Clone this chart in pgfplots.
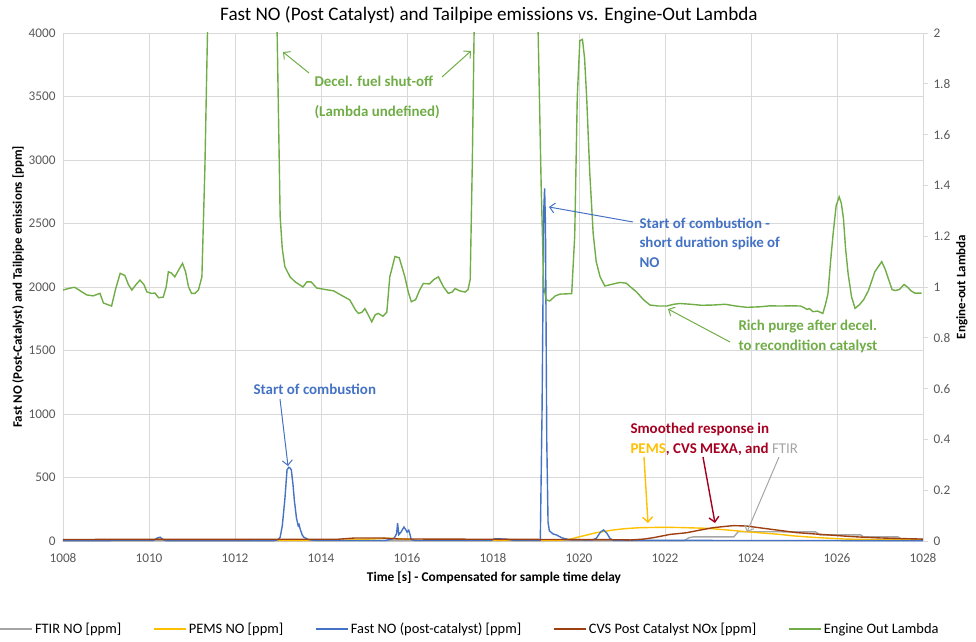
\documentclass[border=0pt]{standalone}
\usepackage{pgfplots}
\pgfplotsset{compat=1.18}
\usepackage{fontspec}
\setmainfont{Carlito}
\usetikzlibrary{arrows.meta}
\definecolor{cgray}{HTML}{A5A5A5}
\definecolor{cgold}{HTML}{FFC000}
\definecolor{cblue}{HTML}{4472C4}
\definecolor{cbrown}{HTML}{9E3F12}
\definecolor{cgreen}{HTML}{70AD47}
\definecolor{cdred}{HTML}{A50021}
\definecolor{cgrid}{HTML}{D9D9D9}
\definecolor{ctick}{HTML}{595959}

\pgfplotstableread{
t v
1008.00 3
1022.45 3
1022.55 25
1022.65 32
1023.60 32
1023.70 73
1025.50 72
1025.60 48
1026.55 48
1026.62 32
1027.42 32
1027.50 14
1028.00 14
}\ftir

\pgfplotstableread{
t v
1008.00 4
1010.05 4
1010.20 18
1010.35 8
1010.50 4
1014.40 5
1014.90 12
1015.60 22
1016.00 14
1016.30 4
1019.50 4
1019.80 15
1020.02 34
1020.40 65
1020.80 87
1021.10 98
1021.42 105
1022.00 108
1022.35 106
1022.97 100
1023.40 88
1023.90 73
1024.30 62
1024.67 52
1025.00 40
1025.45 29
1025.80 22
1026.22 15
1027.00 10
1028.00 8
}\pems

\pgfplotstableread{
t v
1008.00 3
1010.10 4
1010.20 25
1010.26 30
1010.33 10
1010.40 3
1012.90 3
1013.00 10
1013.05 30
1013.10 120
1013.16 330
1013.21 560
1013.25 580
1013.28 575
1013.31 560
1013.35 440
1013.38 320
1013.43 180
1013.47 120
1013.49 130
1013.52 90
1013.56 50
1013.60 30
1013.70 12
1013.80 6
1014.00 4
1015.50 4
1015.70 20
1015.76 60
1015.78 140
1015.81 50
1015.86 70
1015.93 110
1015.97 90
1016.00 70
1016.04 85
1016.07 50
1016.10 10
1016.20 4
1017.95 4
1018.05 18
1018.30 15
1018.50 4
1019.10 5
1019.14 1000
1019.18 2600
1019.20 2777
1019.22 2500
1019.25 800
1019.28 150
1019.31 80
1019.40 55
1019.48 47
1019.60 25
1019.75 12
1020.30 8
1020.40 20
1020.50 70
1020.57 87
1020.65 60
1020.72 20
1020.80 5
1028.00 3
}\fastno

\pgfplotstableread{
t v
1008.00 12
1014.40 14
1014.80 24
1015.40 24
1015.80 16
1021.00 10
1021.20 8
1021.50 15
1021.73 26
1022.12 52
1022.50 65
1022.80 85
1023.12 105
1023.40 115
1023.59 121
1023.90 118
1024.29 100
1024.70 82
1025.06 66
1025.50 55
1025.84 47
1026.20 38
1026.60 30
1027.00 24
1027.40 20
1028.00 15
}\cvs

\pgfplotstableread{
t v
1008.00 0.988
1008.15 0.995
1008.27 0.999
1008.40 0.985
1008.55 0.969
1008.70 0.965
1008.86 0.975
1008.94 0.937
1009.05 0.930
1009.13 0.925
1009.22 0.990
1009.33 1.054
1009.44 1.045
1009.52 1.010
1009.60 0.988
1009.70 1.010
1009.79 1.027
1009.88 1.010
1009.95 0.981
1010.05 0.975
1010.14 0.976
1010.22 0.958
1010.33 0.960
1010.40 1.000
1010.45 1.060
1010.52 1.055
1010.60 1.040
1010.70 1.070
1010.78 1.093
1010.85 1.060
1010.92 1.000
1010.99 0.975
1011.07 0.975
1011.15 0.988
1011.23 1.040
1011.30 1.470
1011.36 2.000
1011.40 2.600
1012.94 2.600
1012.98 2.000
1013.05 1.277
1013.10 1.150
1013.16 1.080
1013.28 1.040
1013.40 1.020
1013.51 1.008
1013.58 1.000
1013.67 1.020
1013.77 1.020
1013.90 0.996
1014.10 0.990
1014.29 0.985
1014.50 0.965
1014.67 0.949
1014.80 0.910
1014.87 0.896
1014.95 0.900
1015.02 0.915
1015.10 0.890
1015.18 0.863
1015.26 0.890
1015.33 0.896
1015.44 0.885
1015.53 0.900
1015.60 1.040
1015.72 1.120
1015.82 1.115
1015.95 1.040
1016.03 0.980
1016.10 0.942
1016.20 0.950
1016.30 0.990
1016.38 1.014
1016.52 1.012
1016.63 1.030
1016.73 1.040
1016.85 1.000
1016.96 0.975
1017.05 0.980
1017.12 0.994
1017.22 0.985
1017.35 0.980
1017.42 0.990
1017.47 1.030
1017.52 1.500
1017.56 2.000
1017.60 2.600
1019.01 2.600
1019.05 2.000
1019.12 1.400
1019.18 1.000
1019.24 0.949
1019.32 0.945
1019.45 0.965
1019.56 0.972
1019.70 0.973
1019.83 0.974
1019.90 1.200
1019.96 1.750
1020.02 1.970
1020.08 1.975
1020.13 1.900
1020.18 1.740
1020.25 1.450
1020.33 1.210
1020.40 1.100
1020.49 1.040
1020.60 1.004
1020.75 1.010
1020.95 1.018
1021.10 1.015
1021.20 1.000
1021.34 0.980
1021.50 0.950
1021.65 0.929
1021.85 0.925
1022.04 0.925
1022.20 0.932
1022.35 0.935
1022.60 0.932
1022.85 0.928
1023.12 0.929
1023.40 0.932
1023.65 0.925
1023.90 0.920
1024.20 0.922
1024.45 0.926
1024.67 0.925
1024.95 0.926
1025.15 0.925
1025.22 0.920
1025.30 0.912
1025.36 0.915
1025.44 0.903
1025.55 0.905
1025.67 0.896
1025.73 0.930
1025.79 0.974
1025.85 1.100
1025.91 1.210
1025.98 1.320
1026.05 1.355
1026.10 1.330
1026.15 1.270
1026.20 1.150
1026.26 1.050
1026.34 0.960
1026.42 0.916
1026.52 0.930
1026.62 0.950
1026.73 0.986
1026.80 1.020
1026.88 1.060
1026.96 1.080
1027.04 1.100
1027.12 1.070
1027.20 1.030
1027.28 0.990
1027.35 0.986
1027.45 0.990
1027.56 1.010
1027.65 0.998
1027.72 0.985
1027.81 0.976
1027.97 0.976
}\lambdatab

\begin{document}
\begin{tikzpicture}
\useasboundingbox (-63bp,-101bp) rectangle (913bp,541bp);
\begin{axis}[
  width=860bp, height=508bp, scale only axis,
  xmin=1008, xmax=1028, ymin=0, ymax=4000,
  xtick={1008,1010,...,1028},
  ytick={0,500,1000,1500,2000,2500,3000,3500,4000},
  grid=major, grid style={cgrid, line width=0.8pt},
  axis x line*=bottom, axis y line*=left,
  x axis line style={cgrid, line width=0.8pt, -},
  y axis line style={draw=none},
  major tick length=0pt,
  tick label style={font=\fontsize{13.3}{15}\selectfont, text=ctick},
  /pgf/number format/assume math mode=true,
  /pgf/number format/1000 sep={},
  xticklabel style={yshift=-9bp},
  yticklabel style={xshift=-4bp},
  legend columns=5,
  legend style={at={(0.4733,-0.173)}, anchor=center, draw=none, fill=none,
    font=\fontsize{14.5}{16}\selectfont,
    /tikz/every even column/.append style={column sep=30bp}},
  legend image code/.code={\draw[#1, line width=1.6pt] (0bp,0bp) -- (32bp,0bp);},
  legend cell align=left,
]
\addplot[cgray, line width=1.4pt] table[x=t,y=v] {\ftir};
\addlegendentry{FTIR NO [ppm]}
\addplot[cgold, line width=1.4pt] table[x=t,y=v] {\pems};
\addlegendentry{PEMS NO [ppm]}
\addplot[cblue, line width=1.4pt] table[x=t,y=v] {\fastno};
\addlegendentry{Fast NO (post-catalyst) [ppm]}
\addplot[cbrown, line width=1.4pt] table[x=t,y=v] {\cvs};
\addlegendentry{CVS Post Catalyst NOx [ppm]}
\addlegendimage{cgreen, line width=1.6pt}
\addlegendentry{Engine Out Lambda}
\end{axis}
\begin{axis}[
  width=860bp, height=508bp, scale only axis,
  xmin=1008, xmax=1028, ymin=0, ymax=2,
  axis x line=none, axis y line*=right,
  y axis line style={cgrid, line width=0.8pt, -},
  ytick={0,0.2,0.4,0.6,0.8,1,1.2,1.4,1.6,1.8,2},
  tick align=outside, major tick length=5bp,
  tick style={cgrid, line width=0.8pt},
  tick label style={font=\fontsize{13.3}{15}\selectfont, text=ctick},
  /pgf/number format/assume math mode=true,
  yticklabel style={xshift=2bp},
]
\addplot[cgreen, line width=1.4pt] table[x=t,y=v] {\lambdatab};
\end{axis}
\begin{scope}[shift={(-63bp,541bp)}, x=1bp, y=-1bp]
\node[font=\fontsize{19.2}{22}\selectfont] at (489,15) {Fast NO (Post Catalyst) and Tailpipe emissions vs. Engine-Out Lambda};
\node[font=\bfseries\fontsize{13.4}{15}\selectfont] at (494,578) {Time [s] - Compensated for sample time delay};
\node[font=\bfseries\fontsize{13}{15}\selectfont, rotate=90] at (18,287) {Fast NO (Post-Catalyst) and Tailpipe emissions [ppm]};
\node[font=\bfseries\fontsize{13}{15}\selectfont, rotate=90] at (962,287) {Engine-out Lambda};
% green annotations
\node[font=\bfseries\fontsize{15}{18}\selectfont, text=cgreen, anchor=west] at (311,81) {Decel. fuel shut-off};
\node[font=\bfseries\fontsize{15}{18}\selectfont, text=cgreen, anchor=west] at (311,112) {(Lambda undefined)};
\draw[cgreen, line width=1pt, -{Straight Barb[length=5bp,width=10bp]}] (309,73) -- (283,52);
\draw[cgreen, line width=1pt, -{Straight Barb[length=5bp,width=10bp]}] (442,77) -- (471,51);
\node[font=\bfseries\fontsize{15}{18}\selectfont, text=cgreen, anchor=west] at (735,327) {Rich purge after decel.};
\node[font=\bfseries\fontsize{15}{18}\selectfont, text=cgreen, anchor=west] at (735,346) {to recondition catalyst};
\draw[cgreen, line width=1pt, -{Straight Barb[length=5bp,width=10bp]}] (730,342) -- (668,309);
% blue annotations
\node[font=\bfseries\fontsize{15}{18}\selectfont, text=cblue, anchor=west] at (250,389) {Start of combustion};
\draw[cblue, line width=1pt, -{Straight Barb[length=5bp,width=10bp]}] (280,399) -- (288,466);
\node[font=\bfseries\fontsize{15}{18}\selectfont, text=cblue, anchor=west] at (636,223) {Start of combustion -};
\node[font=\bfseries\fontsize{15}{18}\selectfont, text=cblue, anchor=west] at (636,243) {short duration spike of};
\node[font=\bfseries\fontsize{15}{18}\selectfont, text=cblue, anchor=west] at (636,263) {NO};
\draw[cblue, line width=1pt, -{Straight Barb[length=5bp,width=10bp]}] (633,222) -- (549,207);
% smoothed response
\node[font=\bfseries\fontsize{15}{18}\selectfont, text=cdred, anchor=west] at (627,429) {Smoothed response in};
\node[font=\bfseries\fontsize{15}{18}\selectfont, text=cdred, anchor=west] at (627,449) {\textcolor{cgold}{PEMS}, CVS MEXA, and \textcolor{cgray}{\mdseries FTIR}};
\draw[cgold, line width=1.4pt, -{Straight Barb[length=5bp,width=10bp]}] (644,457) -- (648,523);
\draw[cdred, line width=1.4pt, -{Straight Barb[length=5bp,width=10bp]}] (703,457) -- (715,523);
\draw[cgray, line width=1pt, -{Straight Barb[length=5bp,width=10bp]}] (779,457) -- (747,532);
\end{scope}
\end{tikzpicture}
\end{document}
